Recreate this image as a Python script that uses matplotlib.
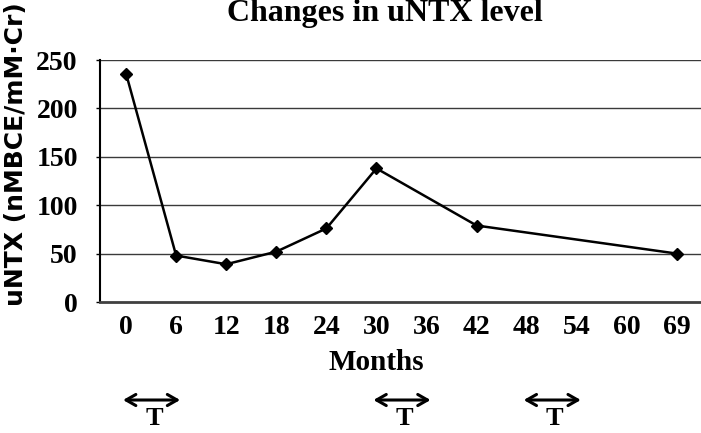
import matplotlib
matplotlib.use("Agg")
import matplotlib.pyplot as plt
from matplotlib.transforms import blended_transform_factory

# categories on the x axis (evenly spaced, 69 comes right after 60)
months = ['0', '6', '12', '18', '24', '30', '36', '42', '48', '54', '60', '69']
# measured months and uNTX values
meas_months = ['0', '6', '12', '18', '24', '30', '42', '69']
untx = [236, 48, 39, 52, 76, 138, 79, 50]
# treatment periods (T)
treat_start = ['0', '30', '48']
treat_end = ['6', '36', '54']
yticks = [0, 50, 100, 150, 200, 250]

serif = 'Liberation Serif'

fig = plt.figure(figsize=(7.01, 4.33), dpi=100)
ax = fig.add_axes([100 / 701, 1 - 302 / 433, 601 / 701, 242 / 433])

xpos = [months.index(m) for m in meas_months]
ax.plot(xpos, untx, color='black', lw=1.8, marker='D', ms=6.5, zorder=3)

ax.set_xlim(-0.52, 11.48)
ax.set_ylim(0, 250)
ax.set_xticks(range(len(months)))
ax.set_xticklabels(months)
ax.set_yticks(yticks)
for y in yticks[1:]:
    ax.axhline(y, color='#3a3a3a', lw=1.0, zorder=1)

for s in ['top', 'right']:
    ax.spines[s].set_visible(False)
ax.spines['left'].set_color('black')
ax.spines['left'].set_linewidth(1.5)
ax.spines['bottom'].set_color('#404040')
ax.spines['bottom'].set_linewidth(2.0)

ax.tick_params(axis='x', length=0, pad=9)
ax.tick_params(axis='y', length=3, width=1, pad=13, direction='out')
for lab in ax.get_xticklabels() + ax.get_yticklabels():
    lab.set_fontfamily(serif)
    lab.set_fontweight('bold')
    lab.set_fontsize(20)

fig.text(385 / 701, 1 - 13 / 433, 'Changes in uNTX level', ha='center', va='center',
         fontfamily=serif, fontweight='bold', fontsize=23)
ax.text((376 - 100) / 601, (302 - 363) / 242, 'Months', transform=ax.transAxes,
        ha='center', va='center', fontfamily=serif, fontweight='bold', fontsize=21)
ax.text(-0.14, 0.61, 'uNTX (nMBCE/mM\u00b7Cr)', transform=ax.transAxes, rotation=90,
        ha='center', va='center', fontfamily='DejaVu Sans',
        fontweight='bold', fontsize=18)

# treatment arrows below the axis
trans = blended_transform_factory(ax.transData, ax.transAxes)
for s, e in zip(treat_start, treat_end):
    x0 = months.index(s) - 0.06
    x1 = months.index(e) + 0.08
    ax.annotate('', xy=(x1, -0.405), xytext=(x0, -0.405), xycoords=trans,
                textcoords=trans, annotation_clip=False,
                arrowprops=dict(arrowstyle='<->, head_length=0.7, head_width=0.4',
                                lw=2.2, color='black', shrinkA=0, shrinkB=0))
    ax.text((x0 + x1) / 2 + 0.05, -0.48, 'T', transform=trans, ha='center', va='center',
            fontfamily=serif, fontweight='bold', fontsize=19)

fig.savefig('out.png', dpi=100)
